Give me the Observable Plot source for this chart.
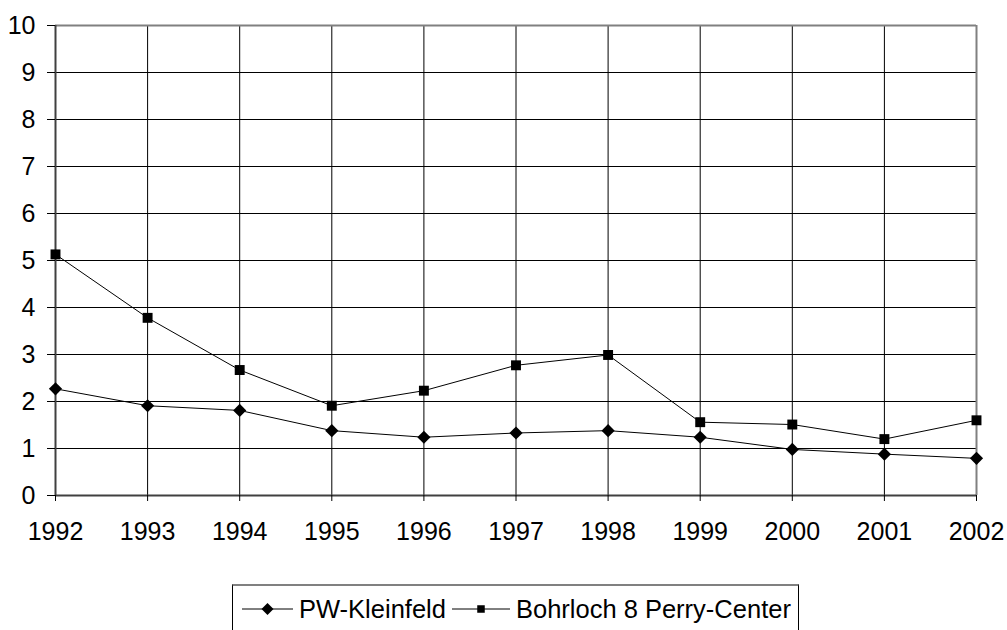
<!DOCTYPE html>
<html>
<head>
<meta charset="utf-8">
<script src="https://cdn.jsdelivr.net/npm/d3@7"></script>
<script src="https://cdn.jsdelivr.net/npm/@observablehq/plot@0.6"></script>
<style>
  html, body { margin: 0; padding: 0; background: #fff; }
  body { width: 1007px; height: 630px; position: relative; overflow: hidden; font-family: "Liberation Sans", Arial, sans-serif; }
  #legend { position: absolute; left: 232px; top: 584px; width: 567px; height: 60px;
    border-top: 2px solid #808080; border-left: 1px solid #000; border-right: 1px solid #000; box-sizing: border-box;
    display: flex; align-items: center; padding-left: 9px; padding-bottom: 12px; font-size: 25.5px; color: #000; }
  #legend .item { display: flex; align-items: center; }
  #legend svg { display: block; margin-right: 6px; }
</style>
</head>
<body>
<div id="chart"></div>
<div id="legend"></div>
<script>
const years = [1992, 1993, 1994, 1995, 1996, 1997, 1998, 1999, 2000, 2001, 2002];
const kleinfeld = [2.27, 1.91, 1.81, 1.38, 1.24, 1.33, 1.38, 1.24, 0.98, 0.88, 0.79];
const perry = [5.13, 3.78, 2.67, 1.91, 2.23, 2.77, 2.99, 1.56, 1.51, 1.20, 1.60];
const yTicks = [0, 1, 2, 3, 4, 5, 6, 7, 8, 9, 10];
const seriesNames = ["PW-Kleinfeld", "Bohrloch 8 Perry-Center"];

const diamond = { draw(ctx, size) { const r = Math.sqrt(size) * 0.62; ctx.moveTo(0, -r); ctx.lineTo(r, 0); ctx.lineTo(0, r); ctx.lineTo(-r, 0); ctx.closePath(); } };
const square = { draw(ctx, size) { const h = Math.sqrt(size) / 2; ctx.rect(-h, -h, 2 * h, 2 * h); } };

const rowsK = years.map((y, i) => ({ year: y, value: kleinfeld[i] }));
const rowsP = years.map((y, i) => ({ year: y, value: perry[i] }));

const chart = Plot.plot({
  width: 1007,
  height: 560,
  marginLeft: 55,
  marginRight: 31,
  marginTop: 25,
  marginBottom: 65,
  style: { fontFamily: "'Liberation Sans', Arial, sans-serif", fontSize: "25px", color: "#000", background: "#fff" },
  x: { domain: [1992, 2002], label: null },
  y: { domain: [0, 10], label: null },
  marks: [
    Plot.ruleY(yTicks.slice(1, -1), { stroke: "#000", strokeWidth: 1 }),
    Plot.ruleX(years.slice(1, -1), { stroke: "#000", strokeWidth: 1 }),
    Plot.ruleY([10], { stroke: "#808080", strokeWidth: 2 }),
    Plot.ruleX([2002], { stroke: "#808080", strokeWidth: 2 }),
    Plot.ruleY([0], { stroke: "#404040", strokeWidth: 2 }),
    Plot.ruleX([1992], { stroke: "#404040", strokeWidth: 2 }),
    Plot.axisY({ ticks: yTicks, tickFormat: d => String(d), tickSize: 8, tickPadding: 12, stroke: "#000", fill: "#000" }),
    Plot.axisX({ ticks: years, tickFormat: d => String(d), tickSize: 6, tickPadding: 21, stroke: "#000", fill: "#000" }),
    Plot.line(rowsK, { x: "year", y: "value", stroke: "#000", strokeWidth: 1 }),
    Plot.line(rowsP, { x: "year", y: "value", stroke: "#000", strokeWidth: 1 }),
    Plot.dot(rowsK, { x: "year", y: "value", symbol: diamond, r: 6, fill: "#000", stroke: "none" }),
    Plot.dot(rowsP, { x: "year", y: "value", symbol: square, r: 5.6, fill: "#000", stroke: "none" })
  ]
});
document.getElementById("chart").appendChild(chart);

// legend
const legend = d3.select("#legend");
const syms = [d3.symbol(diamond, Math.PI * 30)(), d3.symbol(square, Math.PI * 18)()];
seriesNames.forEach((name, i) => {
  const item = legend.append("div").attr("class", "item");
  if (i > 0) item.style("margin-left", "6px");
  const w = i === 0 ? 51 : 58;
  const s = item.append("svg").attr("width", w).attr("height", 20);
  s.append("line").attr("x1", 0).attr("x2", w).attr("y1", 10).attr("y2", 10).attr("stroke", "#000").attr("stroke-width", 1);
  s.append("path").attr("d", syms[i]).attr("transform", `translate(${w / 2},10)`).attr("fill", "#000");
  item.append("span").text(name);
});
</script>
</body>
</html>
